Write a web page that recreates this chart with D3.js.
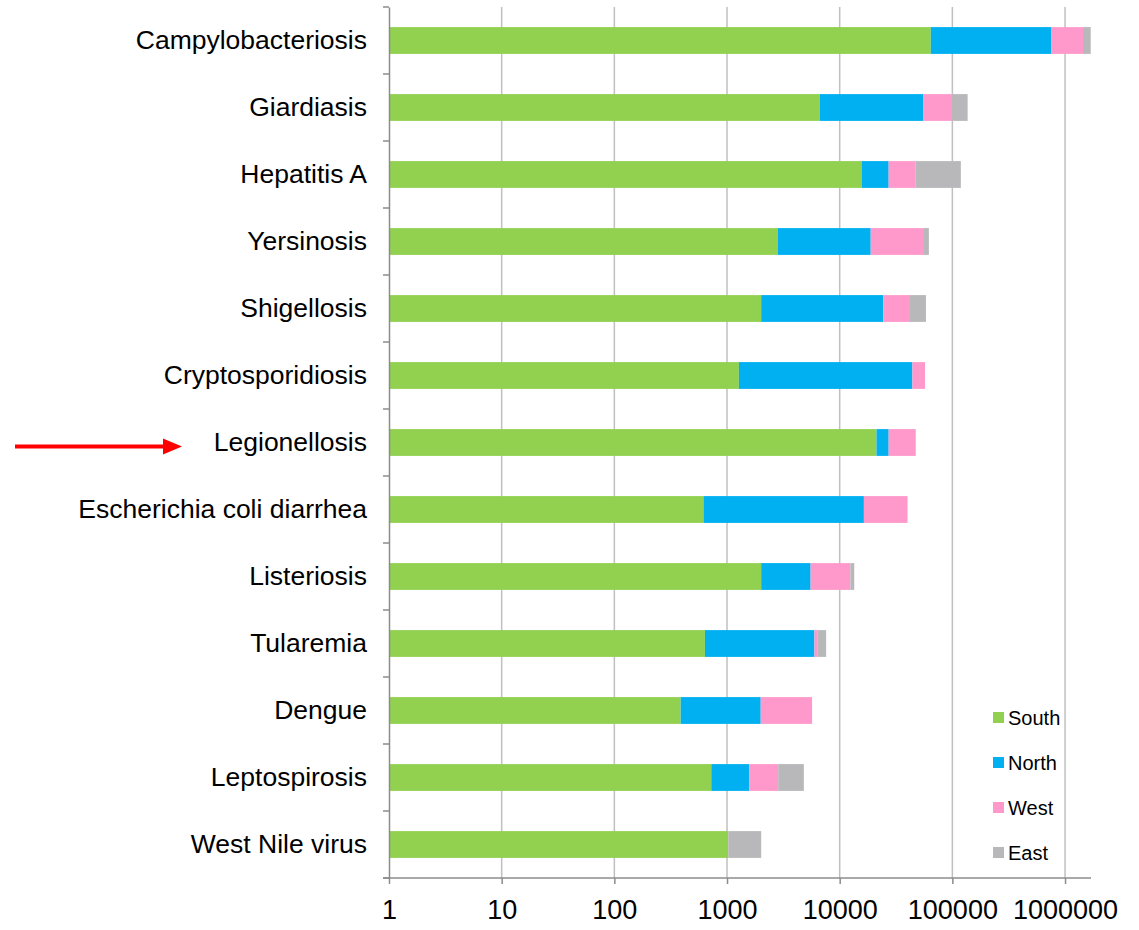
<!DOCTYPE html>
<html><head><meta charset="utf-8">
<script src="https://cdn.jsdelivr.net/npm/d3@7"></script>
<style>body{margin:0;background:#fff}</style>
</head><body>
<svg id="c" width="1139" height="930"></svg>
<script>
const categories = ["Campylobacteriosis","Giardiasis","Hepatitis A","Yersinosis","Shigellosis","Cryptosporidiosis","Legionellosis","Escherichia coli diarrhea","Listeriosis","Tularemia","Dengue","Leptospirosis","West Nile virus"];
const seriesNames = ["South","North","West","East"];
const south = [64400, 6665, 15630, 2813, 2010, 1275, 21230, 618, 2010, 637, 388, 725, 1025];
const north = [693600, 48285, 11570, 16037, 22370, 42925, 5970, 15782, 3510, 5333, 1603, 845, 0];
const west  = [685000, 44550, 19700, 36100, 17690, 12950, 20130, 23600, 6920, 430, 3699, 1274, 0];
const east  = [247000, 37100, 72000, 6910, 16230, 0, 0, 0, 1020, 1180, 0, 1962, 985];
const xTicks = [1, 10, 100, 1000, 10000, 100000, 1000000];
const colors = ["#92D050", "#00B0F0", "#FF99CC", "#B8B8BA"];

const svg = d3.select("#c");
const L = 389, R = 1091, T = 7, B = 878;
const font = "Liberation Sans, Arial, sans-serif";
const x = d3.scaleLog().domain([1, 1.7e6]).range([L, R]);
const y = d3.scaleBand().domain(categories).range([T, B]).paddingInner(0.6).paddingOuter(0.3);
const yb = d3.scaleBand().domain(categories).range([T, B]);

// gridlines
svg.append("g").selectAll("line").data(xTicks.slice(1)).join("line")
  .attr("x1", d => x(d)).attr("x2", d => x(d)).attr("y1", T).attr("y2", B)
  .attr("stroke", "#c0c0c0").attr("stroke-width", 1.5);

// stacked data
const rows = categories.map((c, i) => ({cat: c, South: south[i], North: north[i], West: west[i], East: east[i]}));
const stack = d3.stack().keys(seriesNames)(rows);
svg.append("g").selectAll("g").data(stack).join("g")
  .attr("fill", (d, i) => colors[i])
  .selectAll("rect").data(d => d).join("rect")
  .attr("x", d => x(Math.max(1, d[0])))
  .attr("width", d => Math.max(0, x(Math.max(1, d[1])) - x(Math.max(1, d[0]))))
  .attr("y", d => y(d.data.cat))
  .attr("height", y.bandwidth());

// y axis
const yAxis = d3.axisLeft(yb).tickSize(0).tickPadding(22);
const gy = svg.append("g").attr("transform", `translate(${L},0)`).call(yAxis);
gy.select(".domain").attr("stroke", "#8c8c8c").attr("stroke-width", 1.5);
gy.selectAll("text").attr("font-family", font).attr("font-size", 26.5).attr("fill", "#000");
// band boundary ticks
const bounds = categories.map(c => yb(c)).concat([B]);
svg.append("g").selectAll("line").data(bounds).join("line")
  .attr("x1", L - 6).attr("x2", L).attr("y1", d => d).attr("y2", d => d)
  .attr("stroke", "#8c8c8c").attr("stroke-width", 1.5);

// x axis
const xAxis = d3.axisBottom(x).tickValues(xTicks).tickFormat(d3.format("d")).tickSize(6).tickPadding(16);
const gx = svg.append("g").attr("transform", `translate(0,${B})`).call(xAxis);
gx.select(".domain").attr("d", `M${L-6},0H${R}`).attr("stroke", "#8c8c8c").attr("stroke-width", 1.5);
gx.selectAll(".tick line").attr("stroke", "#8c8c8c").attr("stroke-width", 1.5);
gx.selectAll("text").attr("font-family", font).attr("font-size", 27).attr("fill", "#000");

// legend
const lg = svg.append("g");
seriesNames.forEach((s, i) => {
  const yy = 718 + i * 45;
  lg.append("rect").attr("x", 993).attr("y", yy - 6).attr("width", 11).attr("height", 11).attr("fill", colors[i]);
  lg.append("text").attr("x", 1008).attr("y", yy + 7).text(s)
    .attr("font-family", font).attr("font-size", 20).attr("fill", "#000");
});

// red arrow
const ay = y("Legionellosis") + y.bandwidth() / 2 + 4;
svg.append("line").attr("x1", 15).attr("x2", 166).attr("y1", ay).attr("y2", ay).attr("stroke", "#ff0000").attr("stroke-width", 4);
svg.append("path").attr("d", `M163,${ay-8}L182,${ay}L163,${ay+8}Z`).attr("fill", "#ff0000");
</script>
</body></html>
